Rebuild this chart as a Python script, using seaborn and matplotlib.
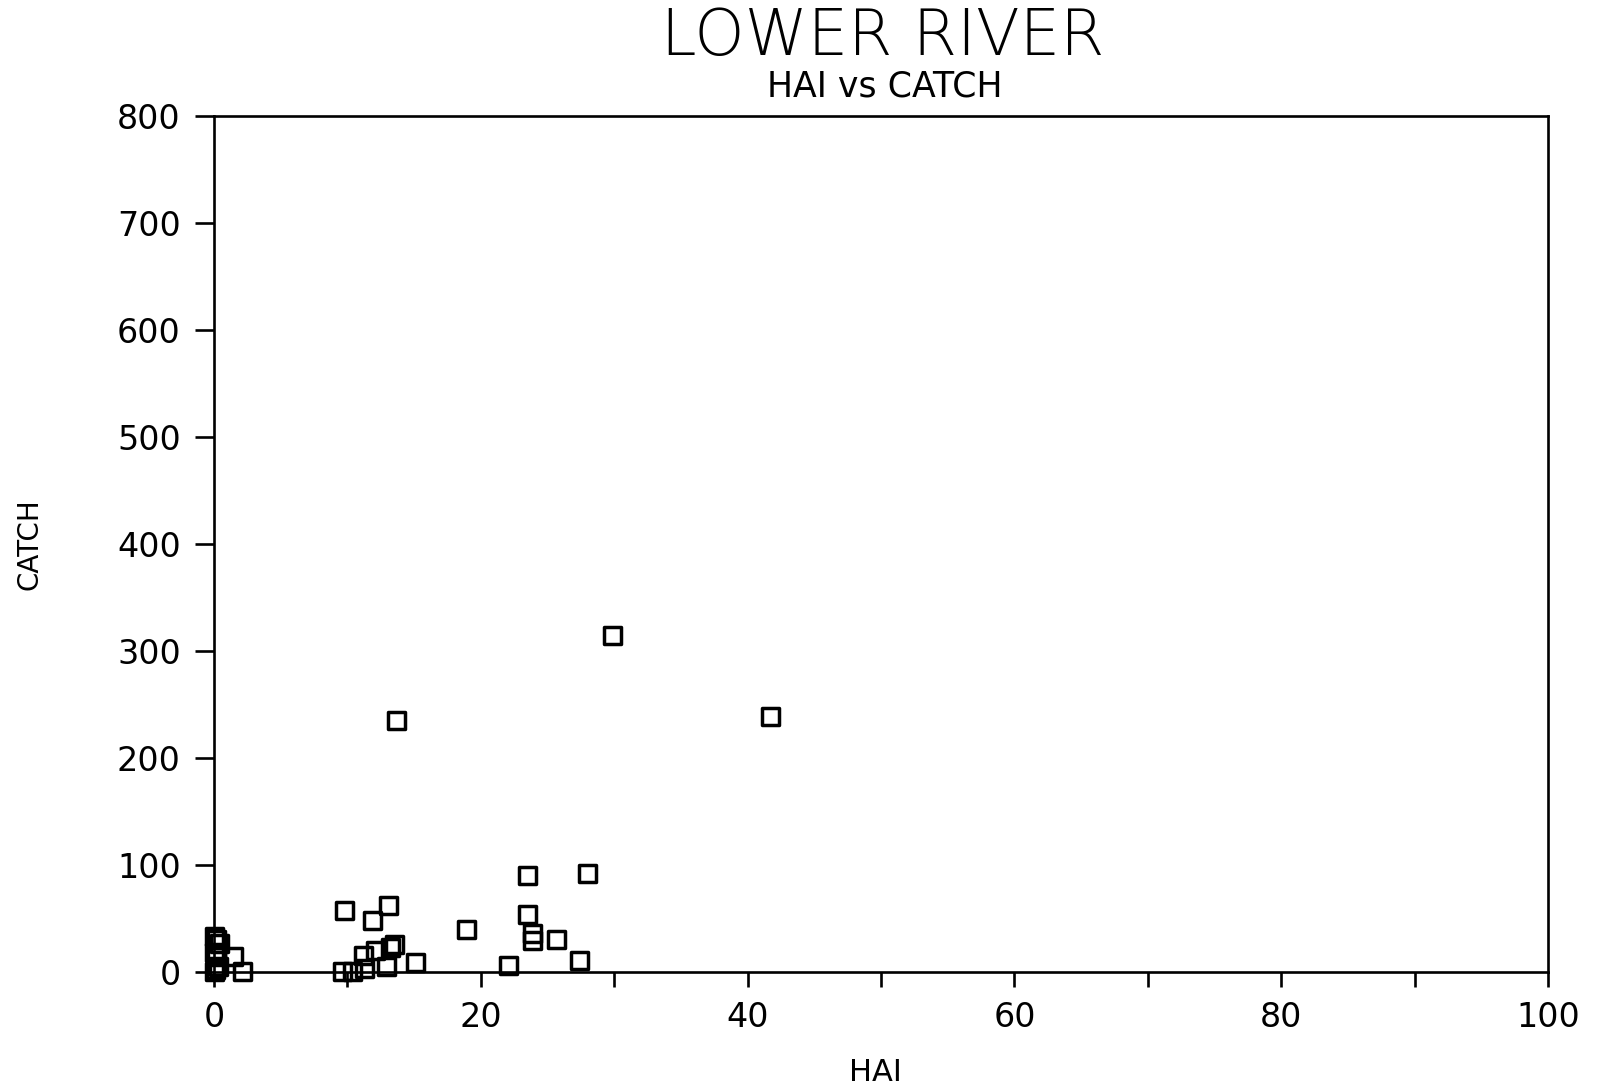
import matplotlib
matplotlib.use("Agg")
import matplotlib.pyplot as plt
import seaborn as sns
import pandas as pd
from matplotlib.ticker import MultipleLocator

# Data (HAI vs CATCH, Lower River)
hai = [0.0, 0.1, 0.3, 0.2, 0.0, 0.4, 0.2, 0.0, 1.45, 2.1,
       9.6, 10.4, 11.3, 11.2, 12.1, 12.9, 13.2, 13.5, 9.8, 11.9,
       13.1, 13.7, 15.1, 18.9, 22.1, 23.5, 23.5, 23.9, 23.9, 25.7,
       27.4, 28.0, 29.9, 41.7]
catch = [0, 2, 5, 14, 18, 27, 30, 33, 14, 0,
         0, 0, 3, 15, 20, 5, 23, 26, 57, 48,
         62, 235, 9, 40, 6, 90, 54, 36, 29, 30,
         11, 92, 314, 239]

title = "LOWER RIVER"
subtitle = "HAI vs CATCH"
x_label = "HAI"
y_label = "CATCH"

df = pd.DataFrame({"HAI": hai, "CATCH": catch})

sns.set_theme(style="white")
plt.rcParams["font.family"] = ["DejaVu Sans"]

fig = plt.figure(figsize=(16.08, 10.90), dpi=100)
ax = fig.add_axes([0.1331, 0.1083, 0.8296, 0.7853])

sns.scatterplot(data=df, x="HAI", y="CATCH", marker="s", s=150,
                facecolor="none", edgecolor="black", linewidth=2.5, ax=ax,
                clip_on=False, zorder=3)

ax.set_xlim(0, 100)
ax.set_ylim(0, 800)
ax.xaxis.set_major_locator(MultipleLocator(20))
ax.xaxis.set_minor_locator(MultipleLocator(10))
ax.yaxis.set_major_locator(MultipleLocator(100))

for s in ax.spines.values():
    s.set_visible(True)
    s.set_color("black")
    s.set_linewidth(1.9)

ax.tick_params(axis="x", which="both", direction="out", length=11, width=1.9,
               color="black", bottom=True, labelsize=24, pad=10, labelcolor="black")
ax.tick_params(axis="y", which="major", direction="out", length=14, width=1.9,
               color="black", left=True, labelsize=24, pad=10, labelcolor="black")

ax.set_xlabel(x_label, fontsize=22, color="black", va="center")
ax.set_ylabel(y_label, fontsize=20, color="black", va="center")
ax.xaxis.set_label_coords(0.4955, -0.117)
ax.yaxis.set_label_coords(-0.138, 0.50)

fig.text(0.549, 0.966, title, ha="center", va="center", fontsize=46,
         fontweight="light", color="black")
fig.text(0.550, 0.921, subtitle, ha="center", va="center", fontsize=25,
         color="black")

fig.savefig("out.png", dpi=100, facecolor="white")
